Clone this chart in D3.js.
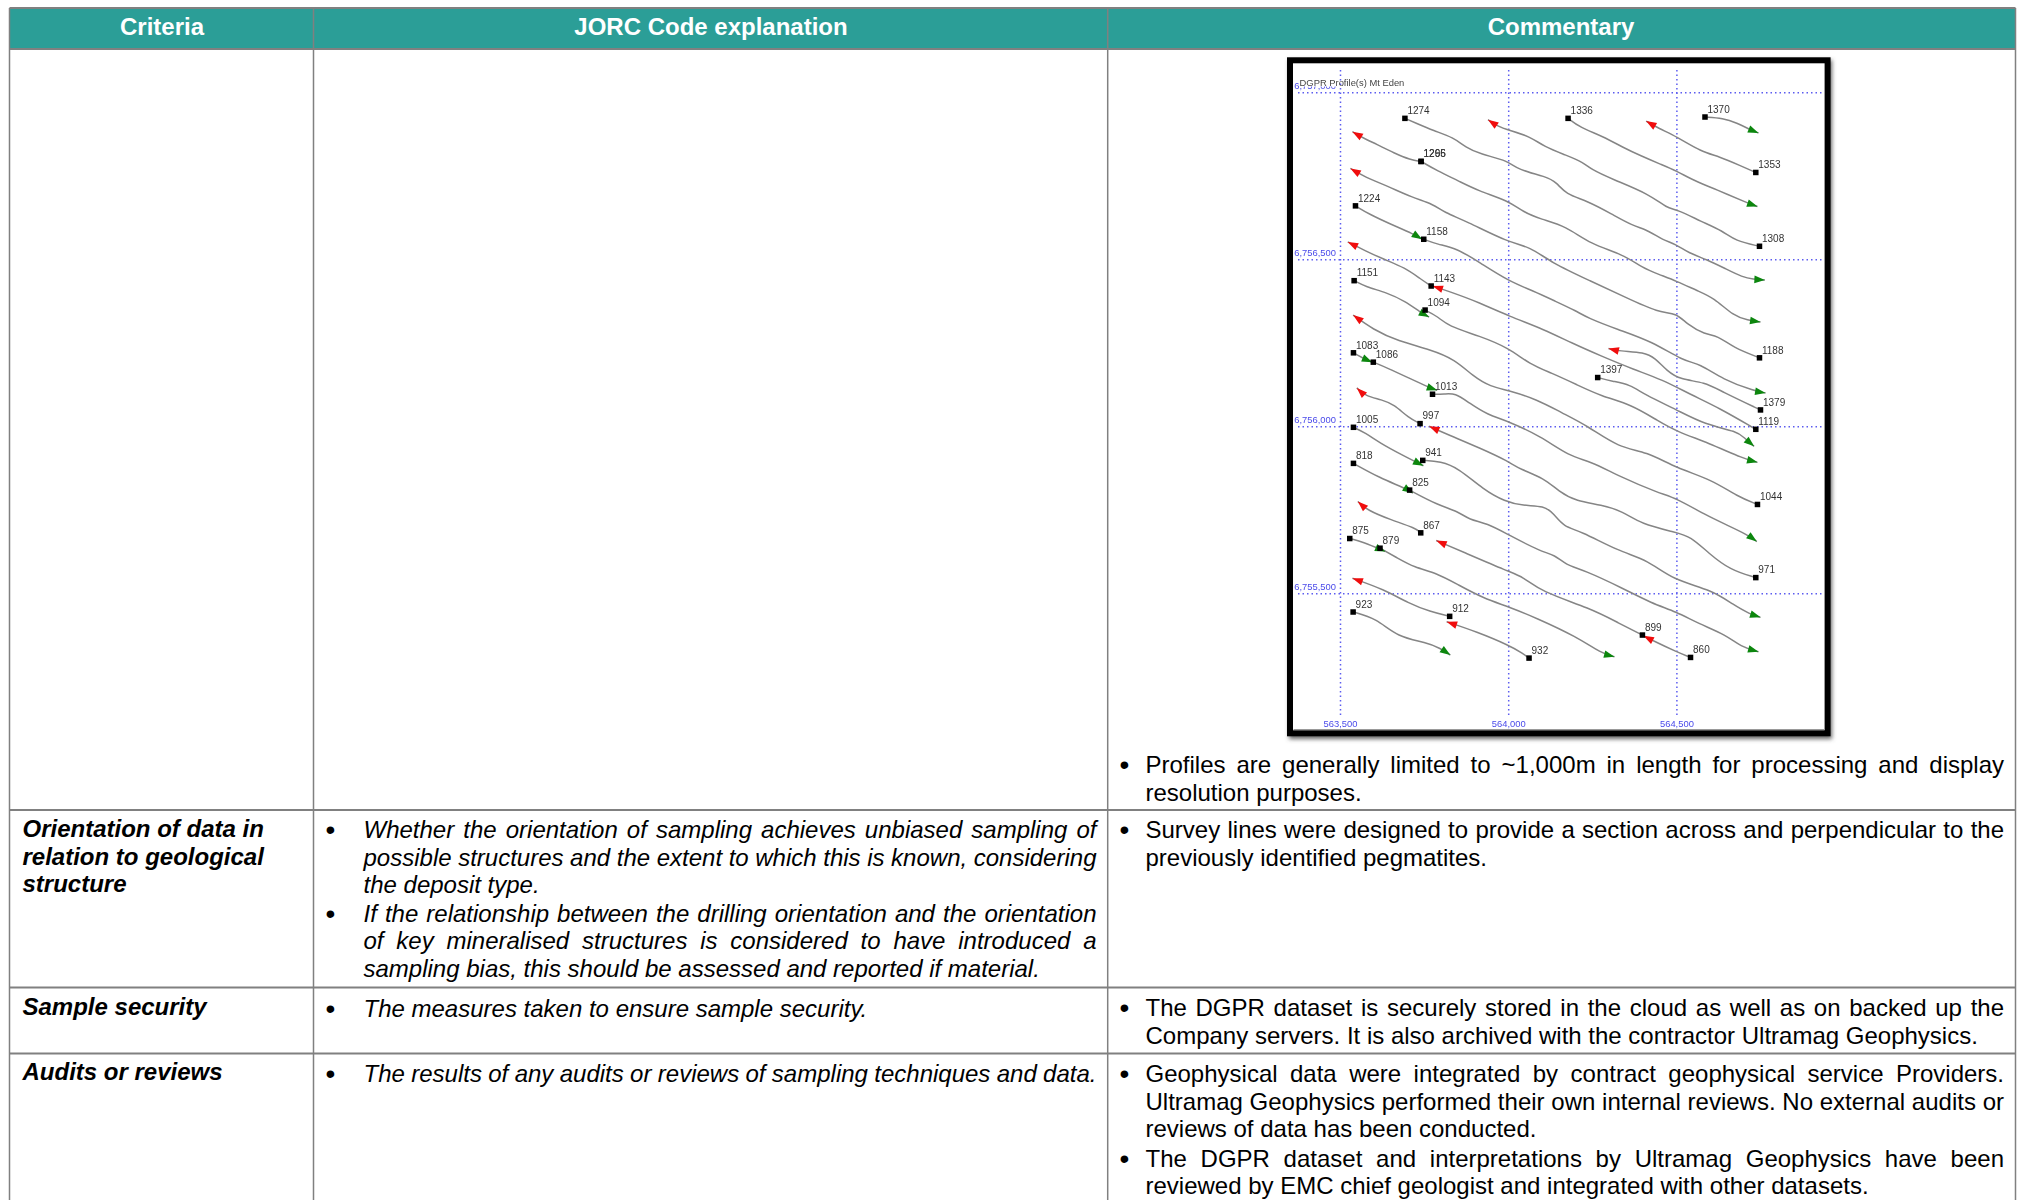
<!DOCTYPE html>
<html>
<head>
<meta charset="utf-8">
<script src="https://cdn.jsdelivr.net/npm/d3@7"></script>
<style>
  body { margin: 0; background: #fff; }
  svg { display: block; font-family: "Liberation Sans", Arial, sans-serif; }
</style>
</head>
<body>
<div id="chart"></div>
<script>
// table text
const headers = ['Criteria', 'JORC Code explanation', 'Commentary'];
const criteriaLines = [
  ['Orientation of data in', 'relation to geological', 'structure'],
  ['Sample security'],
  ['Audits or reviews']
];
// [text, justified]
const jorcLines = [
  [['Whether the orientation of sampling achieves unbiased sampling of', 1],
   ['possible structures and the extent to which this is known, considering', 1],
   ['the deposit type.', 0]],
  [['If the relationship between the drilling orientation and the orientation', 1],
   ['of key mineralised structures is considered to have introduced a', 1],
   ['sampling bias, this should be assessed and reported if material.', 0]],
  [['The measures taken to ensure sample security.', 0]],
  [['The results of any audits or reviews of sampling techniques and data.', 1]]
];
const commentaryLines = [
  [['Profiles are generally limited to ~1,000m in length for processing and display', 1],
   ['resolution purposes.', 0]],
  [['Survey lines were designed to provide a section across and perpendicular to the', 1],
   ['previously identified pegmatites.', 0]],
  [['The DGPR dataset is securely stored in the cloud as well as on backed up the', 1],
   ['Company servers. It is also archived with the contractor Ultramag Geophysics.', 0]],
  [['Geophysical data were integrated by contract geophysical service Providers.', 1],
   ['Ultramag Geophysics performed their own internal reviews. No external audits or', 1],
   ['reviews of data has been conducted.', 0]],
  [['The DGPR dataset and interpretations by Ultramag Geophysics have been', 1],
   ['reviewed by EMC chief geologist and integrated with other datasets.', 0]]
];

// map grid
const eastTicks = [563500, 564000, 564500];
const northTicks = [6755500, 6756000, 6756500, 6757000];
const eastOrigin = 563500;
const northOrigin = 6755500;
const mapTitle = 'DGPR Profile(s) Mt Eden';

// survey lines, [metres east of 563,500, metres north of 6,755,500]
const line1274 = [[193,1422],[225,1408],[278,1385],[337,1365],[374,1335],[416,1315],[501,1295],[528,1268],[613,1248],[644,1230],[671,1195],[735,1175],[809,1135],[867,1102],[920,1085],[958,1058],[1000,1045],[1037,1018],[1090,1000],[1149,970],[1196,947],[1228,940],[1263,938]];
const line1336 = [[678,1422],[713,1395],[782,1368],[841,1335],[894,1310],[952,1285],[1000,1265],[1053,1235],[1117,1210],[1212,1168],[1241,1158]];
const line1370 = [[1085,1426],[1138,1423],[1181,1408],[1215,1390],[1244,1378]];
const line1353 = [[910,1414],[947,1392],[1000,1368],[1074,1322],[1127,1308],[1191,1280],[1236,1260]];
const line1308 = [[440,1418],[469,1398],[501,1387],[565,1368],[607,1337],[671,1312],[724,1290],[745,1270],[809,1240],[920,1195],[973,1152],[1000,1150],[1074,1113],[1138,1085],[1175,1055],[1247,1039]];
const line1295 = [[37,1382],[71,1362],[108,1345],[161,1318],[209,1298],[241,1293]];
const line1266 = [[241,1293],[289,1265],[352,1235],[411,1205],[501,1175],[544,1142],[597,1120],[671,1100],[745,1045],[841,1015],[899,975],[947,955],[1000,935],[1064,905],[1111,885],[1170,830],[1212,818],[1250,812]];
const line1188 = [[31,1272],[76,1245],[140,1220],[214,1185],[278,1165],[310,1140],[374,1115],[501,1050],[565,1038],[628,990],[745,935],[851,885],[947,840],[1000,840],[1032,805],[1085,775],[1122,772],[1170,735],[1247,705]];
const line1224 = [[46,1160],[87,1135],[151,1105],[220,1075],[244,1060]];
const line1158 = [[249,1060],[289,1045],[347,1033],[416,990],[501,935],[575,905],[639,875],[703,845],[735,825],[825,790],[926,755],[1021,695],[1069,688],[1138,640],[1234,605],[1265,600]];
const line1143 = [[23,1052],[76,1025],[130,1000],[193,975],[241,940],[271,920]];
const line1119 = [[275,920],[321,905],[416,870],[501,830],[607,790],[687,750],[777,710],[873,670],[958,640],[1042,595],[1127,555],[1236,491]];
const line1151 = [[42,936],[76,918],[140,900],[193,875],[241,840],[265,827]];
const line1094 = [[253,848],[289,830],[321,800],[416,770],[501,735],[565,685],[628,660],[703,625],[777,590],[867,565],[947,515],[1000,485],[1096,450],[1202,402],[1241,392]];
const line1379 = [[798,733],[830,725],[905,722],[936,705],[973,665],[1011,640],[1085,632],[1133,605],[1250,549]];
const line1044 = [[39,833],[98,790],[172,755],[268,730],[342,700],[395,650],[448,618],[501,608],[586,580],[660,540],[735,502],[830,435],[910,425],[1000,375],[1106,340],[1181,290],[1241,266]];
const line1083 = [[40,720],[66,705],[96,692]];
const line1086 = [[99,692],[140,675],[204,645],[268,615],[289,608]];
const line1013 = [[275,596],[310,596],[342,600],[384,570],[437,535],[501,515],[597,470],[682,410],[745,395],[830,350],[947,300],[1000,285],[1085,235],[1149,205],[1212,175],[1239,155]];
const line1397 = [[766,646],[809,635],[862,625],[905,595],[1000,550],[1085,505],[1181,485],[1202,465],[1231,440]];
const line997 = [[50,615],[76,590],[124,580],[161,565],[204,525],[238,508]];
const line971 = [[265,500],[321,475],[416,435],[501,395],[533,372],[607,345],[650,305],[703,275],[777,265],[841,245],[894,208],[1000,182],[1042,170],[1096,120],[1159,70],[1236,47]];
const line1005 = [[40,497],[76,480],[119,450],[183,415],[248,382]];
const line941 = [[246,398],[299,395],[352,375],[427,310],[490,275],[544,262],[607,262],[634,240],[666,198],[713,188],[830,125],[915,100],[989,40],[1106,10],[1170,-35],[1218,-62],[1250,-72]];
const line818 = [[40,389],[119,345],[193,315],[217,300]];
const line825 = [[207,309],[289,265],[352,245],[384,220],[437,210],[501,175],[597,125],[639,115],[671,85],[724,70],[841,15],[926,-30],[1000,-55],[1064,-90],[1149,-125],[1191,-160],[1244,-175]];
const line867 = [[53,275],[82,248],[151,220],[225,195],[240,181]];
const line875 = [[29,164],[66,155],[135,125]];
const line879 = [[119,135],[172,105],[220,78],[289,60],[352,25],[427,-15],[501,-40],[586,-75],[703,-130],[777,-180],[816,-190]];
const line899 = [[286,158],[363,125],[501,65],[544,50],[597,5],[745,-45],[830,-90],[899,-125]];
const line860 = [[902,-127],[931,-142],[1000,-175],[1042,-192]];
const line912 = [[37,45],[130,12],[204,-30],[268,-55],[326,-69]];
const line932 = [[317,-85],[406,-115],[501,-155],[544,-180],[562,-194]];
const line923 = [[39,-56],[108,-75],[172,-132],[257,-147],[299,-165],[328,-185]];

// which end of a line carries an arrow
const redStartLines = [line1353, line1308, line1295, line1188, line1143, line1119, line1379, line1044, line997, line971, line867, line899, line860, line912, line932];
const greenEndLines = [line1274, line1336, line1370, line1266, line1224, line1158, line1151, line1094, line1083, line1086, line1013, line1397, line1005, line941, line818, line825, line875, line879, line923];
const allLines = redStartLines.concat(greenEndLines);

// labelled line ends
const collarLabels = ['1274','1336','1370','1353','1308','1295','1266','1224','1158','1151','1143','1094','1188','1083','1086','1397','1013','1379','1119','1005','997','941','818','825','1044','867','875','879','971','923','912','899','932','860'];
const collarEast = [193,678,1085,1236,1247,241,241,46,249,42,271,253,1247,40,99,766,275,1250,1236,40,238,246,40,207,1241,240,29,119,1236,39,326,899,562,1042];
const collarNorth = [1422,1422,1426,1260,1039,1293,1293,1160,1060,936,920,848,705,720,692,646,596,549,491,497,508,398,389,309,266,181,164,135,47,-56,-69,-125,-194,-192];

const width = 2022;
const height = 1200;

const svg = d3.select('#chart')
  .append('svg')
  .attr('width', width)
  .attr('height', height);

// ---- table ----
const colX = [9.5, 313.5, 1107.7, 2015.5];
const rowY = [8, 49, 810, 987.5, 1053.5];
const headerCenters = [162, 711, 1561];
const borderColor = '#808080';

svg.append('rect')
  .attr('x', colX[0]).attr('y', rowY[0])
  .attr('width', colX[3] - colX[0]).attr('height', rowY[1] - rowY[0])
  .attr('fill', '#2b9e97');

svg.selectAll('.hline')
  .data(rowY)
  .enter()
  .append('line')
  .attr('class', 'hline')
  .attr('x1', colX[0]).attr('x2', colX[3])
  .attr('y1', d => d).attr('y2', d => d)
  .attr('stroke', borderColor)
  .attr('stroke-width', 2);

svg.selectAll('.vline')
  .data(colX)
  .enter()
  .append('line')
  .attr('class', 'vline')
  .attr('x1', d => d).attr('x2', d => d)
  .attr('y1', rowY[0]).attr('y2', height)
  .attr('stroke', borderColor)
  .attr('stroke-width', 1.5);

svg.selectAll('.header')
  .data(headers)
  .enter()
  .append('text')
  .attr('class', 'header')
  .attr('x', (d, i) => headerCenters[i])
  .attr('y', 35)
  .attr('text-anchor', 'middle')
  .attr('fill', '#fff')
  .attr('font-size', 24)
  .attr('font-weight', 'bold')
  .text(d => d);

const fontSize = 24;
const pitch = 27.7;

// criteria column
const criteriaTop = [837, 1015.3, 1080.3];
criteriaLines.forEach((lines, i) => {
  lines.forEach((t, j) => {
    svg.append('text')
      .attr('x', 22.5)
      .attr('y', criteriaTop[i] + j * pitch)
      .attr('font-size', fontSize)
      .attr('font-weight', 'bold')
      .attr('font-style', 'italic')
      .attr('fill', '#000')
      .text(t);
  });
});

// one bullet with its lines, justified lines get word spacing to reach the right edge
function bulletBlock(lines, bulletX, textX, rightX, top, italic) {
  svg.append('text')
    .attr('x', bulletX)
    .attr('y', top + 1)
    .attr('font-size', 28)
    .attr('text-anchor', 'middle')
    .text('\u2022');
  lines.forEach((l, j) => {
    const t = svg.append('text')
      .attr('x', textX)
      .attr('y', top + j * pitch)
      .attr('font-size', fontSize)
      .attr('font-style', italic ? 'italic' : 'normal')
      .attr('fill', '#000')
      .text(l[0]);
    if (l[1]) {
      const gaps = l[0].split(' ').length - 1;
      const extra = (rightX - textX - t.node().getComputedTextLength()) / gaps;
      t.attr('word-spacing', extra);
    }
  });
}

const jorcTop = [838, 921.7, 1016.5, 1081.7];
jorcLines.forEach((lines, i) => bulletBlock(lines, 330.5, 363.5, 1096.5, jorcTop[i], true));

const commentaryTop = [773.2, 838, 1016.3, 1081.9, 1166.5];
commentaryLines.forEach((lines, i) => bulletBlock(lines, 1124.5, 1145.5, 2004, commentaryTop[i], false));

// ---- map figure ----
const defs = svg.append('defs');
defs.append('filter').attr('id', 'soft')
  .attr('x', '-5%').attr('y', '-5%').attr('width', '110%').attr('height', '110%')
  .append('feGaussianBlur').attr('stdDeviation', 0.55);
defs.append('filter').attr('id', 'shadow')
  .attr('x', '-5%').attr('y', '-5%').attr('width', '110%').attr('height', '110%')
  .append('feGaussianBlur').attr('stdDeviation', 2);

const x = d3.scaleLinear().domain([563500, 564500]).range([1340, 1676.4]);
const y = d3.scaleLinear().domain([6755500, 6757000]).range([593.3, 92.3]);
const px = d => x(eastOrigin + d[0]);
const py = d => y(northOrigin + d[1]);

svg.append('rect')
  .attr('x', 1289).attr('y', 60)
  .attr('width', 543).attr('height', 679)
  .attr('fill', '#666')
  .attr('filter', 'url(#shadow)');

const map = svg.append('g').attr('filter', 'url(#soft)');

map.append('rect')
  .attr('x', 1290).attr('y', 60.3)
  .attr('width', 537.6).attr('height', 673)
  .attr('fill', '#fff')
  .attr('stroke', '#000')
  .attr('stroke-width', 6);
map.append('path')
  .attr('d', 'M1293.5,729.5H1824.5V64')
  .attr('fill', 'none')
  .attr('stroke', '#999')
  .attr('stroke-width', 1);

const gridColor = '#5c5cf0';
const labelColor = '#4a4aea';

const gridBottom = 715;
const gridTop = 70;
const xAxis = map.append('g')
  .attr('transform', `translate(0, ${gridBottom})`)
  .call(d3.axisBottom(x).tickValues(eastTicks).tickFormat(d3.format(',')).tickSize(gridTop - gridBottom));
const yAxis = map.append('g')
  .attr('transform', `translate(${x(eastOrigin)}, 0)`)
  .call(d3.axisLeft(y).tickValues(northTicks).tickFormat(d3.format(',')).tickSize(0));

xAxis.select('.domain').remove();
yAxis.select('.domain').remove();
yAxis.selectAll('line')
  .attr('x1', 1298 - x(eastOrigin))
  .attr('x2', 1823 - x(eastOrigin));
[xAxis, yAxis].forEach(a => {
  a.selectAll('line')
    .attr('stroke', gridColor)
    .attr('stroke-width', 1.5)
    .attr('stroke-dasharray', '1.5 3');
  a.selectAll('text')
    .attr('fill', labelColor)
    .attr('font-size', 9.4)
    .attr('font-family', '"Liberation Sans", Arial, sans-serif')
    .attr('dy', 0);
});
xAxis.selectAll('text').attr('y', 12);
yAxis.selectAll('text').attr('x', -4).attr('y', -4);

// the title sits on top of the first northing label in the original
map.append('rect')
  .attr('x', 1299.5).attr('y', 77)
  .attr('width', 37).attr('height', 9.5)
  .attr('fill', '#fff');
map.append('text')
  .attr('x', 1299.6)
  .attr('y', 85.7)
  .attr('font-size', 9.4)
  .attr('fill', '#444')
  .text(mapTitle);

const line = d3.line()
  .x(px)
  .y(py)
  .curve(d3.curveBasis);

map.selectAll('.profile')
  .data(allLines)
  .enter()
  .append('path')
  .attr('class', 'profile')
  .attr('d', line)
  .attr('fill', 'none')
  .attr('stroke', '#858585')
  .attr('stroke-width', 1.5)
  .attr('stroke-linejoin', 'round');

const arrowPath = 'M0,0L-10.5,-3.8L-10.5,3.8Z';
const arrowAt = (tip, from) => {
  const a = Math.atan2(py(tip) - py(from), px(tip) - px(from)) * 180 / Math.PI;
  return `translate(${px(tip)}, ${py(tip)}) rotate(${a})`;
};

map.selectAll('.redArrow')
  .data(redStartLines)
  .enter()
  .append('path')
  .attr('class', 'redArrow')
  .attr('d', arrowPath)
  .attr('fill', '#f00c0c')
  .attr('transform', d => arrowAt(d[0], d[1]));

map.selectAll('.greenArrow')
  .data(greenEndLines)
  .enter()
  .append('path')
  .attr('class', 'greenArrow')
  .attr('d', arrowPath)
  .attr('fill', '#07860e')
  .attr('transform', d => arrowAt(d[d.length - 1], d[d.length - 2]));

const squareSize = 5.5;
map.selectAll('.collar')
  .data(collarLabels)
  .enter()
  .append('rect')
  .attr('class', 'collar')
  .attr('x', (d, i) => x(eastOrigin + collarEast[i]) - squareSize / 2)
  .attr('y', (d, i) => y(northOrigin + collarNorth[i]) - squareSize / 2)
  .attr('width', squareSize)
  .attr('height', squareSize)
  .attr('fill', '#000');

map.selectAll('.collarLabel')
  .data(collarLabels)
  .enter()
  .append('text')
  .attr('class', 'collarLabel')
  .attr('x', (d, i) => x(eastOrigin + collarEast[i]) + 2.5)
  .attr('y', (d, i) => y(northOrigin + collarNorth[i]) - 4.3)
  .attr('font-size', 10)
  .attr('fill', '#333')
  .text(d => d);
</script>
</body>
</html>
